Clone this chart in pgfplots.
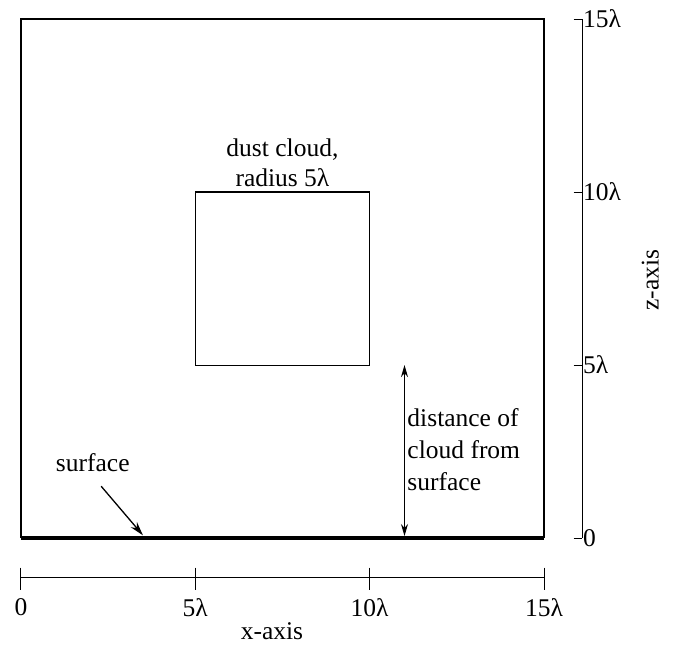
\documentclass[border=0pt]{standalone}
\usepackage{pgfplots}
\pgfplotsset{compat=1.18}
\usepackage{fontspec}
\setmainfont{Liberation Serif}
\usetikzlibrary{arrows.meta}
\newcommand\bigf{\fontsize{25.5}{30}\selectfont}
\newcommand\bigfb{\fontsize{25.5}{32}\selectfont}
\begin{document}
\begin{tikzpicture}
\begin{axis}[
  scale only axis, width=523pt, height=519pt,
  xmin=0, xmax=15, ymin=0, ymax=15,
  axis lines=none, clip=false,
]
% bounding box
\path (axis cs:-0.60,-3.09) rectangle (axis cs:18.70,15.55);
% outer domain
\addplot[black, line width=1.3pt] coordinates {(0,0) (0,15) (15,15) (15,0)};
% surface
\addplot[black, line width=4pt] coordinates {(0,0) (15,0)};
% dust cloud
\addplot[black, line width=1.1pt] coordinates {(5,5) (5,10) (10,10) (10,5) (5,5)};
% distance arrow
\addplot[black, line width=1pt, {Stealth[length=12pt,width=7pt]}-{Stealth[length=12pt,width=7pt]}] coordinates {(11,0.06) (11,5)};
% surface arrow
\addplot[black, line width=1.3pt, -{Stealth[length=14pt,width=8pt]}] coordinates {(2.3,1.5) (3.5,0.08)};
% x ruler
\addplot[black, line width=0.9pt] coordinates {(0,-1.15) (15,-1.15)};
\addplot[black, line width=0.9pt] coordinates {(0,-0.85) (0,-1.5)};
\addplot[black, line width=0.9pt] coordinates {(5,-0.85) (5,-1.5)};
\addplot[black, line width=0.9pt] coordinates {(10,-0.85) (10,-1.5)};
\addplot[black, line width=0.9pt] coordinates {(15,-0.85) (15,-1.5)};
% z ruler
\addplot[black, line width=0.9pt] coordinates {(16.1,0) (16.1,15)};
\addplot[black, line width=0.9pt] coordinates {(15.85,0) (16.1,0)};
\addplot[black, line width=0.9pt] coordinates {(15.85,5) (16.1,5)};
\addplot[black, line width=0.9pt] coordinates {(15.85,10) (16.1,10)};
\addplot[black, line width=0.9pt] coordinates {(15.85,15) (16.1,15)};
% labels
\node[font=\bigf, anchor=north, inner sep=0pt] at (axis cs:0,-1.75) {0};
\node[font=\bigf, anchor=north, inner sep=0pt] at (axis cs:5,-1.75) {5λ};
\node[font=\bigf, anchor=north, inner sep=0pt] at (axis cs:10,-1.75) {10λ};
\node[font=\bigf, anchor=north, inner sep=0pt] at (axis cs:15,-1.75) {15λ};
\node[font=\bigf, anchor=north, inner sep=0pt] at (axis cs:7.2,-2.45) {x-axis};
\node[font=\bigf, anchor=west, inner sep=0pt] at (axis cs:16.12,0) {0};
\node[font=\bigf, anchor=west, inner sep=0pt] at (axis cs:16.12,5) {5λ};
\node[font=\bigf, anchor=west, inner sep=0pt] at (axis cs:16.12,10) {10λ};
\node[font=\bigf, anchor=west, inner sep=0pt] at (axis cs:16.12,15) {15λ};
\node[font=\bigf, rotate=90, inner sep=0pt] at (axis cs:18.05,7.45) {z-axis};
\node[font=\bigf, anchor=south, align=center, inner sep=0pt] at (axis cs:7.5,10.14) {dust cloud,\\radius 5λ};
\node[font=\bigfb, anchor=north west, align=left, inner sep=0pt] at (axis cs:11.08,3.75) {distance of\\cloud from\\surface};
\node[font=\bigf, anchor=base west, inner sep=0pt] at (axis cs:1.0,1.92) {surface};
\end{axis}
\end{tikzpicture}
\end{document}
